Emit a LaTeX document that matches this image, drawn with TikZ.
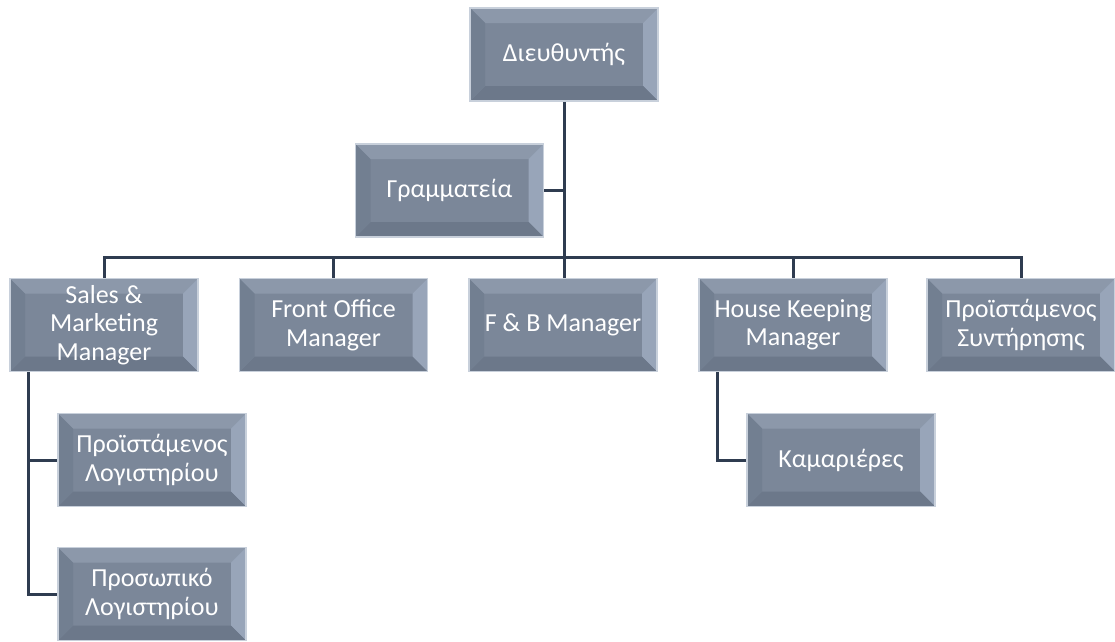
\documentclass[tikz,border=0pt]{standalone}
\usepackage{fontspec}
\setmainfont{Carlito}
\definecolor{face}{HTML}{7B8799}
\definecolor{bevtop}{HTML}{8C98AA}
\definecolor{bevright}{HTML}{98A5B9}
\definecolor{bevbot}{HTML}{6C788A}
\definecolor{bevleft}{HTML}{727F91}
\definecolor{rim}{HTML}{C8D0DB}
\definecolor{conncol}{HTML}{2F3C50}
\pgfdeclarelayer{bg}
\pgfsetlayers{bg,main}
\tikzset{
  orgbox/.style={
    minimum width=188pt, minimum height=93pt, inner sep=0pt,
    align=center, text=white, font=\fontsize{26}{28.5}\selectfont,
    fill=face,
    path picture={
      \coordinate (bnw) at (path picture bounding box.north west);
      \coordinate (bne) at (path picture bounding box.north east);
      \coordinate (bsw) at (path picture bounding box.south west);
      \coordinate (bse) at (path picture bounding box.south east);
      \fill[bevtop] (bnw) -- (bne) -- ([xshift=-15pt,yshift=-15pt]bne) -- ([xshift=15pt,yshift=-15pt]bnw) -- cycle;
      \fill[bevright] (bne) -- (bse) -- ([xshift=-15pt,yshift=15pt]bse) -- ([xshift=-15pt,yshift=-15pt]bne) -- cycle;
      \fill[bevbot] (bse) -- (bsw) -- ([xshift=15pt,yshift=15pt]bsw) -- ([xshift=-15pt,yshift=15pt]bse) -- cycle;
      \fill[bevleft] (bsw) -- (bnw) -- ([xshift=15pt,yshift=-15pt]bnw) -- ([xshift=15pt,yshift=15pt]bsw) -- cycle;
    },
    draw=rim, line width=1.5pt
  },
  conn/.style={draw=conncol, line width=3pt}
}
\begin{document}
\begin{tikzpicture}[x=1pt,y=-1pt]
\useasboundingbox (0,0) rectangle (1115,641);
% nodes
\node[orgbox] (dir) at (564,54.5) {Διευθυντής};
\node[orgbox] (gr)  at (449.5,190.5) {Γραμματεία};
\node[orgbox] (sm)  at (104,325) {Sales \&\\Marketing\\Manager};
\node[orgbox] (fo)  at (333.5,325) {Front Office\\Manager};
\node[orgbox] (fb)  at (563,325) {F \& B Manager};
\node[orgbox] (hk)  at (793,325) {House Keeping\\Manager};
\node[orgbox] (mnt) at (1021,325) {Προϊστάμενος\\Συντήρησης};
\node[orgbox] (acc1) at (152,460) {Προϊστάμενος\\Λογιστηρίου};
\node[orgbox] (acc2) at (152,594) {Προσωπικό\\Λογιστηρίου};
\node[orgbox] (maid) at (841,460) {Καμαριέρες};
% connector anchors
\coordinate (bus) at (564,257);
\coordinate (smL) at (28,372);
\coordinate (hkL) at (717,372);
% connectors
\begin{pgfonlayer}{bg}
\path[conn] (dir.south) -- (dir.south |- fb.north);
\path[conn] (gr.east) -- (gr.east -| dir.south);
\path[conn] (sm.north) |- (bus) -| (mnt.north);
\path[conn] (fo.north) -- (fo.north |- bus);
\path[conn] (hk.north) -- (hk.north |- bus);
\path[conn] (smL) |- (acc2.west);
\path[conn] (smL |- acc1.west) -- (acc1.west);
\path[conn] (hkL) |- (maid.west);
\end{pgfonlayer}
\end{tikzpicture}
\end{document}
